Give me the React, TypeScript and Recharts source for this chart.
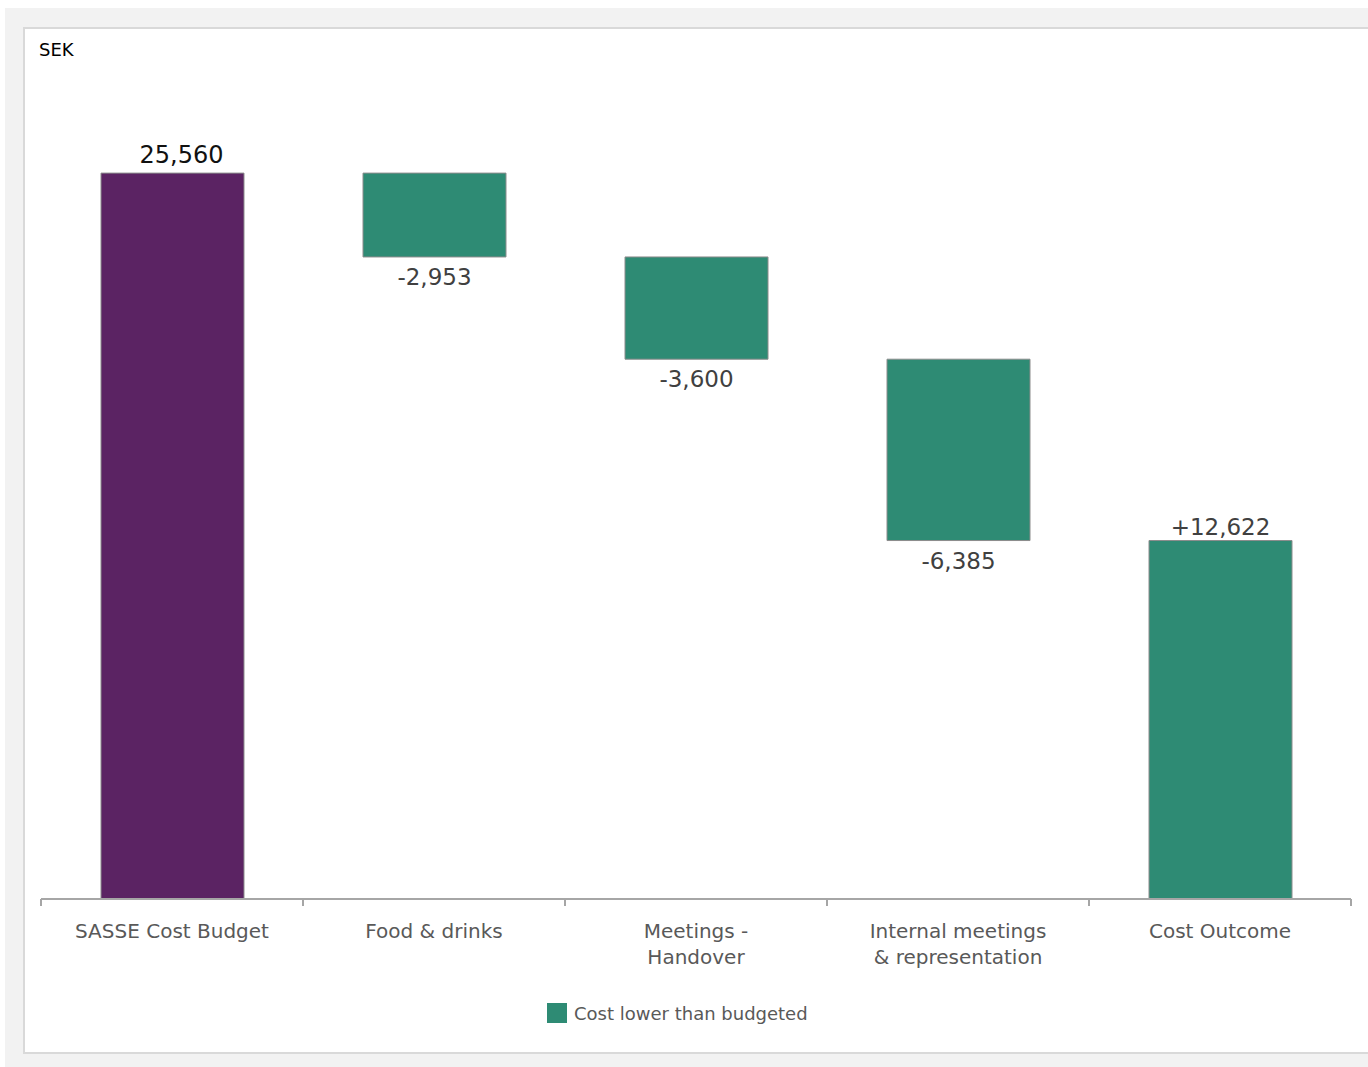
import React from "react";
import { BarChart, Bar, XAxis, YAxis, Cell, LabelList } from "recharts";

const categories = [
  "SASSE Cost Budget",
  "Food & drinks",
  "Meetings -\nHandover",
  "Internal meetings\n& representation",
  "Cost Outcome",
];
const budget = 25560;
const changes = [-2953, -3600, -6385];
const outcome = 12622;
const legendLabel = "Cost lower than budgeted";
const unitLabel = "SEK";

const PURPLE = "#5B2363";
const GREEN = "#2E8B74";
const FONT = "'DejaVu Sans', 'Noto Sans', sans-serif";

const W = 1368;
const H = 1067;
const M = { top: 47, right: 17, left: 41, bottom: 108 };
const BAND = (W - M.left - M.right) / categories.length;

const fmt = (n: number) => Math.abs(n).toLocaleString("en-US");

const rows = (() => {
  const out: any[] = [];
  out.push({ name: categories[0], base: 0, value: budget, label: fmt(budget), below: false, kind: "total" });
  let running = budget;
  changes.forEach((c, i) => {
    running += c;
    out.push({
      name: categories[i + 1],
      base: running,
      value: Math.abs(c),
      label: (c < 0 ? "-" : "+") + fmt(c),
      below: true,
      kind: "delta",
    });
  });
  out.push({ name: categories[4], base: 0, value: outcome, label: "+" + fmt(outcome), below: false, kind: "outcome" });
  return out;
})();

const Tick = (props: any) => {
  const { x, y, payload, index } = props;
  const lines = String(payload.value).split("\n");
  const left = x - BAND / 2;
  const right = x + BAND / 2;
  return (
    <g>
      <line x1={left} y1={y - 8} x2={left} y2={y - 1} stroke="#a6a6a6" strokeWidth={2} />
      {index === categories.length - 1 && (
        <line x1={right} y1={y - 8} x2={right} y2={y - 1} stroke="#a6a6a6" strokeWidth={2} />
      )}
      <text x={x} y={y} textAnchor="middle" fontFamily={FONT} fontSize={20} fill="#595959">
        {lines.map((l, i) => (
          <tspan key={i} x={x} dy={i === 0 ? 31 : 26}>
            {l}
          </tspan>
        ))}
      </text>
    </g>
  );
};

const ValueLabel = (props: any) => {
  const { x, y, width, height, index } = props;
  const r = rows[index];
  const first = index === 0;
  const cx = x + width / 2 + (first ? 9 : 0);
  const ty = r.below ? y + height + 28 : y - (first ? 10 : 6);
  return (
    <text
      x={cx}
      y={ty}
      textAnchor="middle"
      fontFamily={FONT}
      fontSize={first ? 24 : 23}
      fill={first ? "#111111" : "#404040"}
    >
      {r.label}
    </text>
  );
};

export default function App() {
  return (
    <div style={{ position: "relative", width: W, height: H, overflow: "hidden" }}>
      <style>{"html,body{margin:0;padding:0;overflow:hidden;}"}</style>
      <div
        style={{
          position: "absolute",
          left: 5,
          top: 8,
          width: W - 5,
          height: H - 8,
          background: "#f2f2f2",
        }}
      />
      <div
        style={{
          position: "absolute",
          left: 23,
          top: 27,
          width: W - 23,
          height: 1027,
          background: "#ffffff",
          border: "2px solid #d9d9d9",
          borderRight: "none",
          boxSizing: "border-box",
        }}
      />
      <div style={{ position: "absolute", left: 0, top: 0, width: W, height: H }}>
        <BarChart width={W} height={H} data={rows} margin={M} barSize={143}>
          <XAxis
            dataKey="name"
            interval={0}
            height={60}
            tickLine={false}
            axisLine={{ stroke: "#a6a6a6", strokeWidth: 2 }}
            tick={<Tick />}
          />
          <YAxis hide domain={[0, 30000]} />
          <Bar dataKey="base" stackId="w" fill="transparent" isAnimationActive={false} />
          <Bar dataKey="value" stackId="w" isAnimationActive={false} stroke="#8c8c8c" strokeWidth={1}>
            {rows.map((r, i) => (
              <Cell key={i} fill={r.kind === "total" ? PURPLE : GREEN} />
            ))}
            <LabelList dataKey="value" content={<ValueLabel />} />
          </Bar>
        </BarChart>
      </div>
      <div
        style={{
          position: "absolute",
          left: 39,
          top: 38,
          fontFamily: FONT,
          fontSize: 18,
          color: "#000",
          lineHeight: "24px",
        }}
      >
        {unitLabel}
      </div>
      <div
        style={{
          position: "absolute",
          left: 547,
          top: 1003,
          height: 20,
          display: "flex",
          alignItems: "center",
          fontFamily: FONT,
          fontSize: 18,
          color: "#595959",
          whiteSpace: "nowrap",
        }}
      >
        <span style={{ display: "inline-block", width: 20, height: 20, background: GREEN, marginRight: 7 }} />
        <span>{legendLabel}</span>
      </div>
    </div>
  );
}
